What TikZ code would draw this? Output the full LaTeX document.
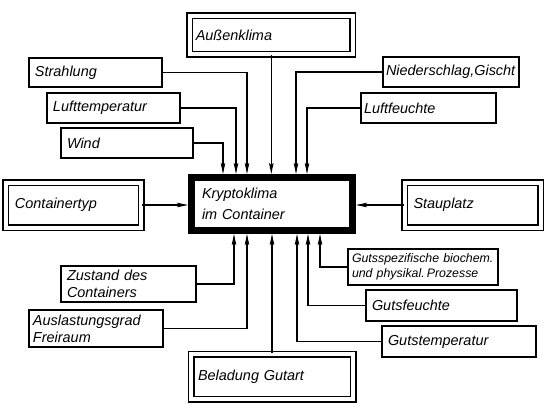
\documentclass[tikz,border=0pt]{standalone}
\usepackage{fontspec}
\setmainfont{Liberation Sans}
\usetikzlibrary{arrows.meta}

\tikzset{
  box/.style={draw, line width=1.3bp, inner xsep=6bp, inner ysep=0pt, align=left,
    font=\itshape\fontsize{14.5}{17}\selectfont},
  dbox/.style={box, line width=1.5bp, double, double distance=4bp},
  arr/.style={line width=1.1bp, -{Stealth[length=11bp,width=4.5bp,inset=2bp]}}
}

\begin{document}
\begin{tikzpicture}[x=1bp,y=-1bp]

\useasboundingbox (0,0) rectangle (550,413);

% centre
\node[box, line width=7bp, inner xsep=10.5bp, text width=140bp, minimum height=53bp,
  font=\itshape\fontsize{14.5}{21}\selectfont] (kk) at (272,204) {Kryptoklima\\im Container};

% top
\node[dbox, text width=151bp, minimum height=38.5bp] (aussen) at (271.3,35.2) {Außenklima};
\node[box, text width=121bp, minimum height=29bp] (strahlung) at (95.5,72.5) {Strahlung};
\node[box, text width=121bp, minimum height=30bp] (lufttemp) at (113.5,108) {Lufttemperatur};
\node[box, text width=120bp, minimum height=30bp] (wind) at (127,143) {Wind};
\node[box, inner xsep=3bp, text width=130bp, minimum height=30bp] (nieder) at (451,72) {Niederschlag,Gischt};
\node[box, inner xsep=3bp, text width=129bp, minimum height=30bp] (luftfeuchte) at (428.5,108) {Luftfeuchte};

% sides
\node[dbox, inner xsep=9bp, text width=117bp, minimum height=45bp] (ctyp) at (73.5,205) {Containertyp};
\node[dbox, inner xsep=9bp, text width=118bp, minimum height=45bp] (stau) at (472.5,205) {Stauplatz};

% bottom
\node[box, text width=123bp, minimum height=36bp] (zustand) at (128.5,284) {Zustand des\\Containers};
\node[box, inner xsep=4bp, text width=126bp, minimum height=37bp] (auslast) at (96,328.5) {Auslastungsgrad\\Freiraum};
\node[dbox, inner xsep=7bp, text width=148bp, minimum height=45bp] (belad) at (272,376.5) {Beladung Gutart};
\node[box, inner xsep=2bp, text width=146bp, minimum height=36bp,
  font=\itshape\fontsize{12.4}{15}\selectfont] (gutsspez) at (423,267) {\hspace{2bp}Gutsspezifische biochem.\\\hspace{2bp}und physikal.\,Prozesse};
\node[box, text width=139bp, minimum height=31bp] (gutsfeuchte) at (441.5,305.5) {Gutsfeuchte};
\node[box, text width=142bp, minimum height=31bp] (gutstemp) at (459,341.5) {Gutstemperatur};

% connectors
\draw[arr] (aussen.south) -- (kk.north -| aussen.south);
\draw[arr] (strahlung.east) -| (kk.north -| 247,0);
\draw[arr] (lufttemp.east) -| (kk.north -| 236,0);
\draw[arr] (wind.east) -| (kk.north -| 223,0);
\draw[arr] (nieder.west) -| (kk.north -| 296,0);
\draw[arr] (luftfeuchte.west) -| (kk.north -| 307,0);

\draw[arr] (ctyp.east) -- (kk.west |- ctyp.east);
\draw[arr] (stau.west) -- (kk.east |- stau.west);

\draw[arr] (belad.north) -- (kk.south -| belad.north);
\draw[arr] (zustand.east) -| (kk.south -| 234,0);
\draw[arr] (auslast.east) -| (kk.south -| 247,0);
\draw[arr] (gutsspez.west) -| (kk.south -| 320,0);
\draw[arr] (gutsfeuchte.west) -| (kk.south -| 308,0);
\draw[arr] (gutstemp.west) -| (kk.south -| 297,0);

\end{tikzpicture}
\end{document}
